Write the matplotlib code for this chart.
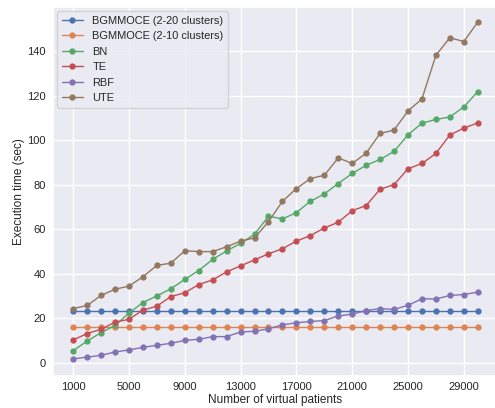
import matplotlib
matplotlib.use('Agg')
import matplotlib.pyplot as plt
import seaborn as sns

patients = list(range(1000, 30001, 1000))

bgmmoce_20 = [23.3] * 30
bgmmoce_10 = [16.2] * 30
bn = [5.4, 9.7, 13.5, 16.7, 22.3, 27.0, 30.0, 33.2, 37.4, 41.4,
      46.4, 50.2, 53.6, 57.7, 65.8, 64.6, 67.4, 72.5, 75.8, 80.5,
      85.0, 88.7, 91.3, 94.9, 102.4, 107.6, 109.3, 110.4, 114.9, 121.8]
te = [10.2, 13.1, 15.0, 18.2, 19.5, 23.6, 25.4, 29.7, 31.4, 35.1,
      37.2, 40.8, 43.5, 46.2, 48.9, 51.2, 54.6, 57.1, 60.5, 63.1,
      68.3, 70.6, 77.9, 80.0, 87.1, 89.5, 94.0, 102.3, 105.4, 107.7]
rbf = [1.7, 2.5, 3.3, 4.8, 5.7, 6.9, 7.8, 8.7, 10.0, 10.5,
       11.7, 11.7, 13.8, 14.1, 15.2, 17.0, 17.9, 18.5, 18.9, 21.0,
       21.8, 23.4, 24.3, 23.9, 25.8, 28.7, 28.6, 30.2, 30.6, 31.7]
ute = [24.3, 25.7, 30.2, 33.0, 34.4, 38.6, 43.7, 44.7, 50.3, 49.9,
       49.9, 52.1, 54.6, 56.1, 63.3, 72.5, 78.2, 82.7, 84.2, 92.0,
       89.5, 94.1, 103.0, 104.5, 113.1, 118.5, 138.1, 146.0, 144.3, 153.0]

series = [
    ('BGMMOCE (2-20 clusters)', bgmmoce_20),
    ('BGMMOCE (2-10 clusters)', bgmmoce_10),
    ('BN', bn),
    ('TE', te),
    ('RBF', rbf),
    ('UTE', ute),
]

sns.set_theme(style='darkgrid')
plt.rcParams['font.family'] = ['Liberation Sans', 'DejaVu Sans']

fig = plt.figure(figsize=(4.95, 4.08), dpi=100)
# the original picture is cropped on the right, so the axes run past the edge
ax = fig.add_axes([0.107, 0.0784, 0.899, 0.9044])

for label, values in series:
    ax.plot(patients, values, marker='o', markersize=3.5, linewidth=1.0, label=label)

ax.set_xticks(list(range(1000, 30001, 4000)))
ax.set_ylim(-6, 159.8)
ax.tick_params(axis='x', labelsize=8, length=0, pad=4)
ax.tick_params(axis='y', labelsize=8, length=0, pad=5)
ax.set_xlabel('Number of virtual patients', fontsize=8.5, labelpad=2)
ax.set_ylabel('Execution time (sec)', fontsize=8.5, labelpad=1.5)
ax.legend(loc='upper left', fontsize=7.9, handlelength=1.9, handletextpad=0.9,
          labelspacing=0.5, borderaxespad=0.4)

fig.savefig('out.png', dpi=100)
